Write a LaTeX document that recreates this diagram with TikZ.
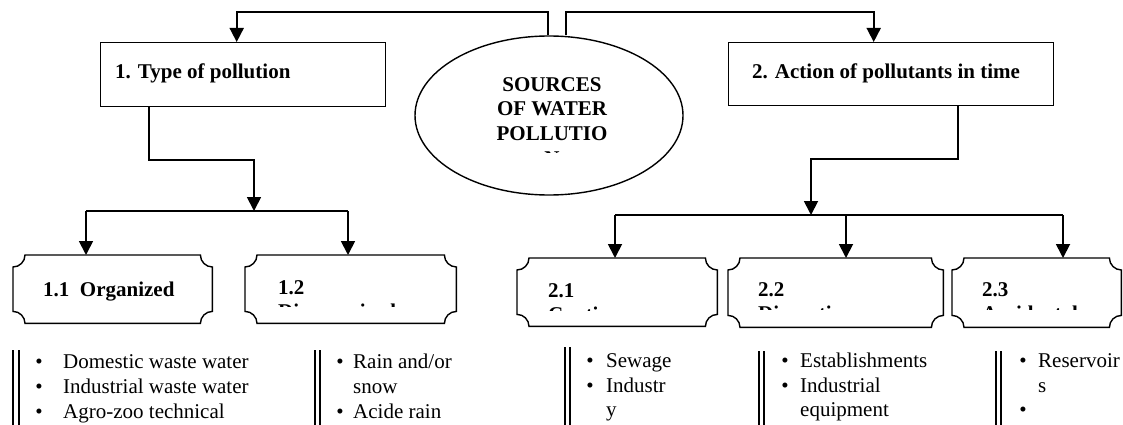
\documentclass[tikz,border=0pt]{standalone}
\usepackage{fontspec}
\setmainfont{Liberation Serif}
\usetikzlibrary{arrows.meta,calc,shapes.geometric}
\def\plaqr{12}
\newcommand\drawplaque[1]{%
  \draw[plaq] ($(#1.north west)+(0,-\plaqr)$) arc[start angle=270,end angle=360,radius=\plaqr]
    -- ($(#1.north east)+(-\plaqr,0)$) arc[start angle=180,end angle=270,radius=\plaqr]
    -- ($(#1.south east)+(0,\plaqr)$) arc[start angle=90,end angle=180,radius=\plaqr]
    -- ($(#1.south west)+(\plaqr,0)$) arc[start angle=0,end angle=90,radius=\plaqr]
    -- cycle;}
\begin{document}
\begin{tikzpicture}[x=1pt,y=1pt,
  conn/.style={line width=1.8pt},
  arr/.style={conn,-{Triangle[width=14pt,length=14pt]}},
  topbox/.style={draw,line width=1.4pt,rectangle,inner sep=0pt,anchor=north west},
  plaqbox/.style={rectangle,inner sep=0pt,anchor=north west},
  plaq/.style={line width=1.4pt},
  ttl/.style={font=\fontsize{21}{24}\selectfont\bfseries,inner sep=0pt,anchor=base west},
  ellt/.style={font=\fontsize{21}{24}\selectfont\bfseries,inner sep=0pt,anchor=base},
  txt/.style={font=\fontsize{21}{24}\selectfont,inner sep=0pt,anchor=base west},
  bul/.style={font=\fontsize{21}{24}\selectfont,inner sep=0pt,anchor=base},
  bar/.style={line width=1.5pt}]
\useasboundingbox (0,0) rectangle (1123,-425);

% top boxes
\node[topbox,minimum width=285pt,minimum height=64pt] (b1) at (100,-42) {};
\node[ttl] (l1) at (115,-79) {1. Type of pollution};
\node[topbox,minimum width=325pt,minimum height=63pt] (b2) at (728,-42) {};
\node[ttl] (l2) at (752,-79) {2. Action of pollutants in time};

% central ellipse
\node[draw,ellipse,line width=1.4pt,minimum width=268pt,minimum height=159pt,inner sep=0pt] (src) at (549,-115.5) {};
\node[ellt] (s1) at (552,-92) {SOURCES};
\node[ellt] (s2) at (552,-116) {OF WATER};
\node[ellt] (s3) at (552,-140) {POLLUTIO};
\begin{scope}
  \clip (400,-36) rectangle (700,-152.5);
  \node[ellt] (s4) at (552,-165) {N};
\end{scope}

% top connectors
\coordinate (sl) at (548,-12);
\coordinate (sr) at (566,-12);
\draw[arr] (src.north -| sl) -- (sl) -| ([xshift=-6.5pt]b1.north);
\draw[arr] (src.north -| sr) -- (sr) -| ([xshift=-17.5pt]b2.north);

% plaque boxes
\node[plaqbox,minimum width=199pt,minimum height=68pt] (b11) at (13,-255) {};
\node[plaqbox,minimum width=211pt,minimum height=68pt] (b12) at (245,-255) {};
\node[plaqbox,minimum width=200pt,minimum height=68pt] (b21) at (517,-258) {};
\node[plaqbox,minimum width=215pt,minimum height=69pt] (b22) at (728,-258) {};
\node[plaqbox,minimum width=169pt,minimum height=69pt] (b23) at (952,-258) {};
\drawplaque{b11}
\drawplaque{b12}
\drawplaque{b21}
\drawplaque{b22}
\drawplaque{b23}

\node[ttl] (l11) at (43,-296) {1.1\ \ Organized};
\node[ttl] (l12) at (278,-294) {1.2};
\node[ttl] (l21) at (548,-297) {2.1};
\node[ttl] (l22) at (758,-296) {2.2};
\node[ttl] (l23) at (982,-296) {2.3};
\begin{scope}
  \clip (245,-255) rectangle (456,-306.5);
  \node[ttl] (m12) at (278,-318) {Disorganized};
\end{scope}
\begin{scope}
  \clip (517,-258) rectangle (717,-310);
  \node[ttl] (m21) at (548,-321) {Continuous};
\end{scope}
\begin{scope}
  \clip (728,-258) rectangle (943,-309.5);
  \node[ttl] (m22) at (758,-320) {Discontinuous};
\end{scope}
\begin{scope}
  \clip (952,-258) rectangle (1121,-309.5);
  \node[ttl] (m23) at (982,-320) {Accidental};
\end{scope}

% left branch connectors
\coordinate (d1) at (149,-160);
\coordinate (j1) at (254,-211);
\coordinate (a11) at (86,-211);
\coordinate (a12) at (348,-211);
\draw[arr] (b1.south -| d1) -- (d1) -| (j1);
\draw[conn] (a11) -- (a12);
\draw[arr] (a11) -- (b11.north -| a11);
\draw[arr] (a12) -- (b12.north -| a12);

% right branch connectors
\coordinate (d2) at (958,-159);
\coordinate (j2) at (811,-215);
\coordinate (a21) at (615,-215);
\coordinate (a22) at (846,-215);
\coordinate (a23) at (1063,-215);
\draw[arr] (b2.south -| d2) -- (d2) -| (j2);
\draw[conn] (a21) -- (a23);
\draw[arr] (a21) -- (b21.north -| a21);
\draw[arr] (a22) -- (b22.north -| a22);
\draw[arr] (a23) -- (b23.north -| a23);

% list 1
\draw[bar] (13,-350) -- (13,-425);
\draw[bar] (19,-350) -- (19,-425);
\node[bul] (p1a) at (39,-368) {\textbullet};
\node[txt] (q1a) at (63,-368) {Domestic waste water};
\node[bul] (p1b) at (39,-393) {\textbullet};
\node[txt] (q1b) at (63,-393) {Industrial waste water};
\node[bul] (p1c) at (39,-418) {\textbullet};
\node[txt] (q1c) at (63,-418) {Agro-zoo technical};

% list 2
\draw[bar] (315,-350) -- (315,-425);
\draw[bar] (320,-350) -- (320,-425);
\node[bul] (p2a) at (340,-368) {\textbullet};
\node[txt] (q2a) at (353,-368) {Rain and/or};
\node[txt] (q2b) at (353,-393) {snow};
\node[bul] (p2c) at (340,-418) {\textbullet};
\node[txt] (q2c) at (353,-418) {Acide rain};

% list 3
\draw[bar] (565,-347) -- (565,-425);
\draw[bar] (570,-347) -- (570,-425);
\node[bul] (p3a) at (590,-367) {\textbullet};
\node[txt] (q3a) at (606,-367) {Sewage};
\node[bul] (p3b) at (590,-392) {\textbullet};
\node[txt] (q3b) at (606,-392) {Industr};
\node[txt] (q3c) at (606,-416) {y};

% list 4
\draw[bar] (759,-351) -- (759,-425);
\draw[bar] (764,-351) -- (764,-425);
\node[bul] (p4a) at (785,-367) {\textbullet};
\node[txt] (q4a) at (800,-367) {Establishments};
\node[bul] (p4b) at (785,-392) {\textbullet};
\node[txt] (q4b) at (800,-392) {Industrial};
\node[txt] (q4c) at (800,-416) {equipment};

% list 5
\draw[bar] (996,-351) -- (996,-425);
\draw[bar] (1001,-351) -- (1001,-425);
\node[bul] (p5a) at (1023,-367) {\textbullet};
\node[txt] (q5a) at (1038,-367) {Reservoir};
\node[txt] (q5b) at (1038,-392) {s};
\node[bul] (p5c) at (1023,-416) {\textbullet};
\end{tikzpicture}
\end{document}
